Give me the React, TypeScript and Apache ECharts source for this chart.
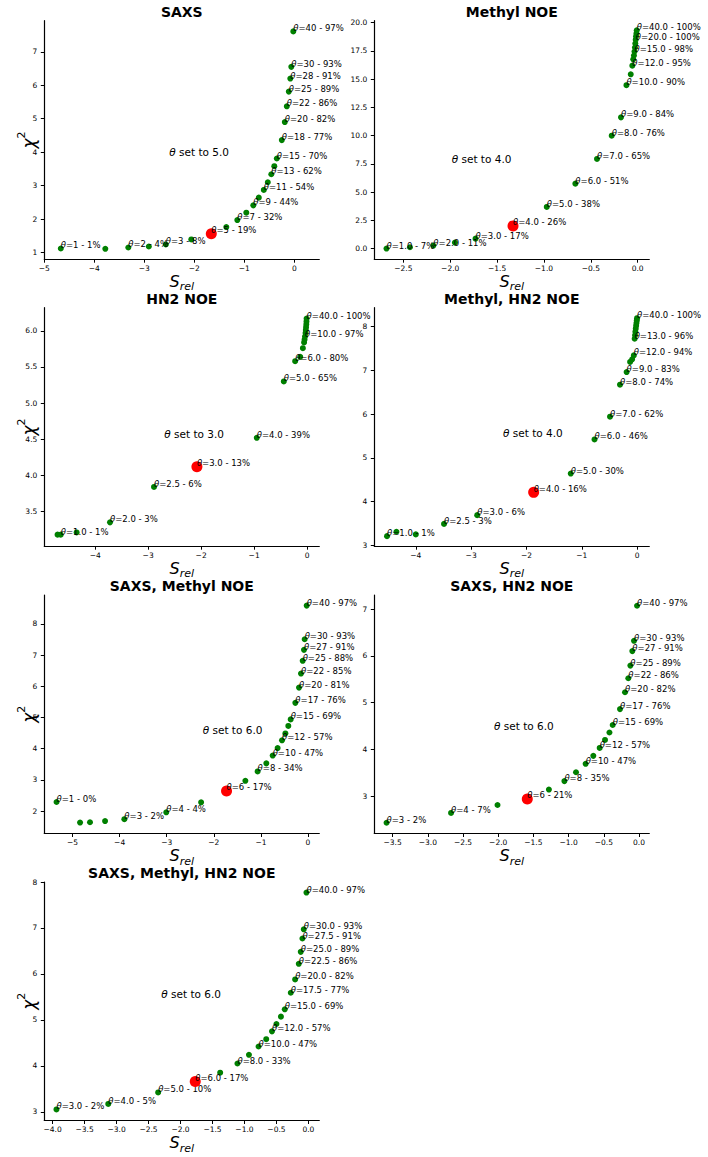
import React, { useEffect, useRef } from "react";
import * as echarts from "echarts";

// ---------------- data (S_rel, chi^2, theta label) ----------------
const SAXS_S = [-4.67, -3.78, -3.32, -2.91, -2.57, -2.06, -1.36, -1.14, -0.96, -0.82, -0.71, -0.61, -0.53, -0.46, -0.4, -0.35, -0.25, -0.19, -0.15, -0.11, -0.08, -0.06, -0.02];
const SAXS_CHI2 = [1.12, 1.11, 1.15, 1.18, 1.24, 1.39, 1.76, 1.97, 2.19, 2.41, 2.64, 2.87, 3.1, 3.34, 3.58, 3.81, 4.36, 4.9, 5.37, 5.81, 6.2, 6.55, 7.61];
const SAXS_THETA = ["1 - 1%", "", "2 - 4%", "", "3 - 8%", "", "", "7 - 32%", "", "9 - 44%", "", "11 - 54%", "", "13 - 62%", "", "15 - 70%", "18 - 77%", "20 - 82%", "22 - 86%", "25 - 89%", "28 - 91%", "30 - 93%", "40 - 97%"];
const SAXS_SELECTED = [-1.66, 1.56];
const SAXS_SELECTED_THETA = "5 - 19%";
const SAXS_THETA_SET = "5.0";
const SAXS_X_LIM = [-5, 0.5];
const SAXS_Y_LIM = [0.8, 7.93];
const SAXS_X_TICKS = [-5, -4, -3, -2, -1, 0];
const SAXS_Y_TICKS = [1, 2, 3, 4, 5, 6, 7];

const METHYL_S = [-2.68, -2.43, -2.18, -1.95, -1.73, -0.97, -0.665, -0.434, -0.277, -0.178, -0.12, -0.074, -0.057, -0.047, -0.04, -0.034, -0.029, -0.025, -0.021, -0.017, -0.013, -0.01];
const METHYL_CHI2 = [0.0, 0.12, 0.27, 0.53, 0.88, 3.69, 5.75, 7.94, 10.0, 11.62, 14.47, 15.43, 16.2, 16.76, 17.1, 17.45, 17.8, 18.15, 18.5, 18.8, 19.05, 19.33];
const METHYL_THETA = ["1.0 - 7%", "", "2.0 - 11%", "", "3.0 - 17%", "5.0 - 38%", "6.0 - 51%", "7.0 - 65%", "8.0 - 76%", "9.0 - 84%", "10.0 - 90%", "", "12.0 - 95%", "", "", "15.0 - 98%", "", "", "20.0 - 100%", "", "", "40.0 - 100%"];
const METHYL_SELECTED = [-1.33, 2.01];
const METHYL_SELECTED_THETA = "4.0 - 26%";
const METHYL_THETA_SET = "4.0";
const METHYL_X_LIM = [-2.81, 0.124];
const METHYL_Y_LIM = [-0.94, 20.18];
const METHYL_X_TICKS = [-2.5, -2.0, -1.5, -1.0, -0.5, 0.0];
const METHYL_Y_TICKS = [0, 2.5, 5, 7.5, 10, 12.5, 15, 17.5, 20];

const HN2_S = [-4.71, -4.65, -4.35, -3.72, -2.89, -0.95, -0.44, -0.226, -0.13, -0.08, -0.057, -0.048, -0.04, -0.03, -0.025, -0.02, -0.015, -0.012, -0.01];
const HN2_CHI2 = [3.18, 3.18, 3.21, 3.35, 3.84, 4.52, 5.3, 5.58, 5.64, 5.76, 5.84, 5.88, 5.92, 5.97, 6.01, 6.05, 6.09, 6.13, 6.17];
const HN2_THETA = ["", "1.0 - 1%", "", "2.0 - 3%", "2.5 - 6%", "4.0 - 39%", "5.0 - 65%", "6.0 - 80%", "", "", "", "", "10.0 - 97%", "", "", "", "", "", "40.0 - 100%"];
const HN2_SELECTED = [-2.08, 4.12];
const HN2_SELECTED_THETA = "3.0 - 13%";
const HN2_THETA_SET = "3.0";
const HN2_X_LIM = [-4.96, 0.23];
const HN2_Y_LIM = [3.02, 6.32];
const HN2_X_TICKS = [-4, -3, -2, -1, 0];
const HN2_Y_TICKS = [3.5, 4.0, 4.5, 5.0, 5.5, 6.0];

const MH_S = [-4.52, -4.35, -4.0, -3.49, -2.89, -1.2, -0.77, -0.49, -0.31, -0.19, -0.127, -0.09, -0.06, -0.045, -0.038, -0.032, -0.025, -0.018, -0.012, -0.006, -0.002];
const MH_CHI2 = [3.21, 3.31, 3.25, 3.49, 3.69, 4.64, 5.42, 5.94, 6.67, 6.96, 7.19, 7.25, 7.34, 7.72, 7.8, 7.88, 7.95, 8.02, 8.08, 8.14, 8.19];
const MH_THETA = ["1.0 - 1%", "", "", "2.5 - 3%", "3.0 - 6%", "5.0 - 30%", "6.0 - 46%", "7.0 - 62%", "8.0 - 74%", "9.0 - 83%", "", "", "12.0 - 94%", "13.0 - 96%", "", "", "", "", "", "", "40.0 - 100%"];
const MH_SELECTED = [-1.87, 4.21];
const MH_SELECTED_THETA = "4.0 - 16%";
const MH_THETA_SET = "4.0";
const MH_X_LIM = [-4.75, 0.22];
const MH_Y_LIM = [2.98, 8.43];
const MH_X_TICKS = [-4, -3, -2, -1, 0];
const MH_Y_TICKS = [3, 4, 5, 6, 7, 8];

const SM_S = [-5.34, -4.84, -4.63, -4.31, -3.9, -3.01, -2.27, -1.33, -1.07, -0.885, -0.75, -0.645, -0.552, -0.48, -0.418, -0.368, -0.269, -0.191, -0.149, -0.113, -0.085, -0.071, -0.028];
const SM_CHI2 = [2.29, 1.63, 1.64, 1.68, 1.74, 1.96, 2.28, 2.97, 3.27, 3.53, 3.78, 4.02, 4.27, 4.49, 4.73, 4.94, 5.47, 5.96, 6.41, 6.82, 7.17, 7.51, 8.59];
const SM_THETA = ["1 - 0%", "", "", "", "3 - 2%", "4 - 4%", "", "", "8 - 34%", "", "10 - 47%", "", "12 - 57%", "", "", "15 - 69%", "17 - 76%", "20 - 81%", "22 - 85%", "25 - 88%", "27 - 91%", "30 - 93%", "40 - 97%"];
const SM_SELECTED = [-1.73, 2.64];
const SM_SELECTED_THETA = "6 - 17%";
const SM_THETA_SET = "6.0";
const SM_X_LIM = [-5.6, 0.24];
const SM_Y_LIM = [1.28, 8.93];
const SM_X_TICKS = [-5, -4, -3, -2, -1, 0];
const SM_Y_TICKS = [2, 3, 4, 5, 6, 7, 8];

const SH_S = [-3.586, -2.67, -2.01, -1.28, -1.06, -0.895, -0.758, -0.649, -0.559, -0.483, -0.42, -0.374, -0.27, -0.199, -0.152, -0.123, -0.095, -0.071, -0.028];
const SH_CHI2 = [2.43, 2.64, 2.81, 3.14, 3.32, 3.51, 3.69, 3.86, 4.03, 4.2, 4.36, 4.52, 4.86, 5.22, 5.52, 5.79, 6.1, 6.32, 7.07];
const SH_THETA = ["3 - 2%", "4 - 7%", "", "", "8 - 35%", "", "10 - 47%", "", "12 - 57%", "", "", "15 - 69%", "17 - 76%", "20 - 82%", "22 - 86%", "25 - 89%", "27 - 91%", "30 - 93%", "40 - 97%"];
const SH_SELECTED = [-1.587, 2.94];
const SH_SELECTED_THETA = "6 - 21%";
const SH_THETA_SET = "6.0";
const SH_X_LIM = [-3.76, 0.146];
const SH_Y_LIM = [2.2, 7.3];
const SH_X_TICKS = [-3.5, -3.0, -2.5, -2.0, -1.5, -1.0, -0.5, 0.0];
const SH_Y_TICKS = [3, 4, 5, 6, 7];

const ALL_S = [-3.94, -3.13, -2.35, -1.38, -1.11, -0.93, -0.78, -0.66, -0.57, -0.5, -0.43, -0.37, -0.276, -0.208, -0.151, -0.12, -0.094, -0.073, -0.031];
const ALL_CHI2 = [3.05, 3.17, 3.42, 3.85, 4.05, 4.24, 4.42, 4.58, 4.75, 4.91, 5.07, 5.23, 5.59, 5.88, 6.22, 6.48, 6.77, 6.97, 7.77];
const ALL_THETA = ["3.0 - 2%", "4.0 - 5%", "5.0 - 10%", "", "8.0 - 33%", "", "10.0 - 47%", "", "12.0 - 57%", "", "", "15.0 - 69%", "17.5 - 77%", "20.0 - 82%", "22.5 - 86%", "25.0 - 89%", "27.5 - 91%", "30.0 - 93%", "40.0 - 97%"];
const ALL_SELECTED = [-1.77, 3.66];
const ALL_SELECTED_THETA = "6.0 - 17%";
const ALL_THETA_SET = "6.0";
const ALL_X_LIM = [-4.13, 0.17];
const ALL_Y_LIM = [2.81, 8.0];
const ALL_X_TICKS = [-4.0, -3.5, -3.0, -2.5, -2.0, -1.5, -1.0, -0.5, 0.0];
const ALL_Y_TICKS = [3, 4, 5, 6, 7, 8];

const TITLES = ["SAXS", "Methyl NOE", "HN2 NOE", "Methyl, HN2 NOE", "SAXS, Methyl NOE", "SAXS, HN2 NOE", "SAXS, Methyl, HN2 NOE"];

// ---------------- layout ----------------
const GRID_W = 275;
const GRID_H = 238.5;
const COL_LEFT = [44.3, 374.3];
const ROW_TOP = [20.7, 307.7, 595, 882];
const FONT = "DejaVu Sans";

const PANELS = [
  { s: SAXS_S, c: SAXS_CHI2, t: SAXS_THETA, sel: SAXS_SELECTED, selT: SAXS_SELECTED_THETA, set: SAXS_THETA_SET, xl: SAXS_X_LIM, yl: SAXS_Y_LIM, xt: SAXS_X_TICKS, yt: SAXS_Y_TICKS, xd: 0, yd: 0, col: 0, row: 0, note: [125, 131.6] },
  { s: METHYL_S, c: METHYL_CHI2, t: METHYL_THETA, sel: METHYL_SELECTED, selT: METHYL_SELECTED_THETA, set: METHYL_THETA_SET, xl: METHYL_X_LIM, yl: METHYL_Y_LIM, xt: METHYL_X_TICKS, yt: METHYL_Y_TICKS, xd: 1, yd: 1, col: 1, row: 0, note: [77.4, 138.3] },
  { s: HN2_S, c: HN2_CHI2, t: HN2_THETA, sel: HN2_SELECTED, selT: HN2_SELECTED_THETA, set: HN2_THETA_SET, xl: HN2_X_LIM, yl: HN2_Y_LIM, xt: HN2_X_TICKS, yt: HN2_Y_TICKS, xd: 0, yd: 1, col: 0, row: 1, note: [120, 126.3] },
  { s: MH_S, c: MH_CHI2, t: MH_THETA, sel: MH_SELECTED, selT: MH_SELECTED_THETA, set: MH_THETA_SET, xl: MH_X_LIM, yl: MH_Y_LIM, xt: MH_X_TICKS, yt: MH_Y_TICKS, xd: 0, yd: 0, col: 1, row: 1, note: [128.7, 125.3] },
  { s: SM_S, c: SM_CHI2, t: SM_THETA, sel: SM_SELECTED, selT: SM_SELECTED_THETA, set: SM_THETA_SET, xl: SM_X_LIM, yl: SM_Y_LIM, xt: SM_X_TICKS, yt: SM_Y_TICKS, xd: 0, yd: 0, col: 0, row: 2, note: [158.4, 135.3] },
  { s: SH_S, c: SH_CHI2, t: SH_THETA, sel: SH_SELECTED, selT: SH_SELECTED_THETA, set: SH_THETA_SET, xl: SH_X_LIM, yl: SH_Y_LIM, xt: SH_X_TICKS, yt: SH_Y_TICKS, xd: 1, yd: 0, col: 1, row: 2, note: [119.7, 131] },
  { s: ALL_S, c: ALL_CHI2, t: ALL_THETA, sel: ALL_SELECTED, selT: ALL_SELECTED_THETA, set: ALL_THETA_SET, xl: ALL_X_LIM, yl: ALL_Y_LIM, xt: ALL_X_TICKS, yt: ALL_Y_TICKS, xd: 1, yd: 0, col: 0, row: 3, note: [117, 112] },
];

const fmt = (v: number, d: number) => {
  const s = Math.abs(v).toFixed(d);
  return (v < -1e-9 ? "\u2212" : "") + s;
};

const labelRich = { i: { fontStyle: "italic", fontSize: 8.5, fontFamily: FONT, color: "#000" } };
const labelFmt = (p: any) => (p.name ? "{i|\u03b8}=" + p.name : "");

function buildOption() {
  const grid: any[] = [];
  const xAxis: any[] = [];
  const yAxis: any[] = [];
  const series: any[] = [];
  const graphic: any[] = [];

  PANELS.forEach((p, i) => {
    const left = COL_LEFT[p.col];
    const top = ROW_TOP[p.row];
    grid.push({ left, top, width: GRID_W, height: GRID_H, containLabel: false });
    const axisCommon = {
      type: "value",
      gridIndex: i,
      splitLine: { show: false },
      axisLine: { show: true, onZero: false, lineStyle: { color: "#000", width: 1.2 } },
    };
    xAxis.push({
      ...axisCommon,
      min: p.xl[0],
      max: p.xl[1],
      axisTick: { show: true, length: 3.5, customValues: p.xt, lineStyle: { color: "#000", width: 1 } },
      axisLabel: { customValues: p.xt, formatter: (v: number) => fmt(v, p.xd), fontSize: 7.5, color: "#000", margin: 5, fontFamily: FONT },
      name: "{s|S}{r|rel}",
      nameLocation: "middle",
      nameGap: 14,
      nameTextStyle: {
        rich: {
          s: { fontSize: 16, fontStyle: "italic", fontFamily: FONT, color: "#000", lineHeight: 18, verticalAlign: "top" },
          r: { fontSize: 11, fontStyle: "italic", fontFamily: FONT, color: "#000", lineHeight: 12, verticalAlign: "top", padding: [8, 0, 0, 0] },
        },
      },
    });
    yAxis.push({
      ...axisCommon,
      min: p.yl[0],
      max: p.yl[1],
      axisTick: { show: true, length: 3.5, customValues: p.yt, lineStyle: { color: "#000", width: 1 } },
      axisLabel: { customValues: p.yt, formatter: (v: number) => fmt(v, p.yd), fontSize: 7.5, color: "#000", margin: 7, fontFamily: FONT },
      name: p.col === 0 ? "{c|\u03c7}{t|2}" : "",
      nameLocation: "middle",
      nameRotate: 90,
      nameGap: 10,
      nameMoveOverlap: false,
      nameTextStyle: {
        rich: {
          c: { fontSize: 17, fontStyle: "italic", fontFamily: FONT, color: "#000", lineHeight: 18, verticalAlign: "top", padding: [4, 0, 0, 0] },
          t: { fontSize: 11, fontFamily: FONT, color: "#000", lineHeight: 12, verticalAlign: "top" },
        },
      },
    });
    series.push({
      type: "scatter",
      xAxisIndex: i,
      yAxisIndex: i,
      symbol: "circle",
      symbolSize: 6,
      silent: true,
      itemStyle: { color: "#008000", opacity: 1 },
      data: p.s.map((x, j) => ({ value: [x, p.c[j]], name: p.t[j] })),
      label: {
        show: true,
        position: ["50%", "0%"],
        align: "left",
        verticalAlign: "middle",
        formatter: labelFmt,
        fontSize: 8.5,
        fontFamily: FONT,
        color: "#000",
        rich: labelRich,
      },
      z: 2,
    });
    series.push({
      type: "scatter",
      xAxisIndex: i,
      yAxisIndex: i,
      symbol: "circle",
      symbolSize: 11,
      silent: true,
      itemStyle: { color: "#ff0000", opacity: 1 },
      data: [{ value: [p.sel[0], p.sel[1]], name: p.selT }],
      label: {
        show: true,
        position: ["50%", "17%"],
        align: "left",
        verticalAlign: "middle",
        formatter: labelFmt,
        fontSize: 8.5,
        fontFamily: FONT,
        color: "#000",
        rich: labelRich,
      },
      z: 3,
    });
    graphic.push({
      type: "text",
      x: left + GRID_W / 2,
      y: top - 9,
      z: 10,
      style: { text: TITLES[i], align: "center", verticalAlign: "middle", fontSize: 14, fontWeight: "bold", fontFamily: FONT, fill: "#000" },
    });
    graphic.push({
      type: "text",
      x: left + p.note[0],
      y: top + p.note[1],
      z: 10,
      style: {
        text: "{i|\u03b8} set to " + p.set,
        align: "left",
        verticalAlign: "middle",
        fontSize: 10.5,
        fontFamily: FONT,
        fill: "#000",
        rich: { i: { fontStyle: "italic", fontSize: 10.5, fontFamily: FONT, fill: "#000" } },
      },
    });
  });

  return {
    animation: false,
    backgroundColor: "#fff",
    textStyle: { fontFamily: FONT },
    grid,
    xAxis,
    yAxis,
    series,
    graphic,
  };
}

export default function App() {
  const ref = useRef<HTMLDivElement>(null);
  useEffect(() => {
    if (!ref.current) return;
    const chart = echarts.init(ref.current, undefined, { renderer: "svg" });
    chart.setOption(buildOption() as any);
    return () => chart.dispose();
  }, []);
  return <div ref={ref} style={{ position: "absolute", left: 0, top: 0, width: 708, height: 1157, background: "#fff" }} />;
}
